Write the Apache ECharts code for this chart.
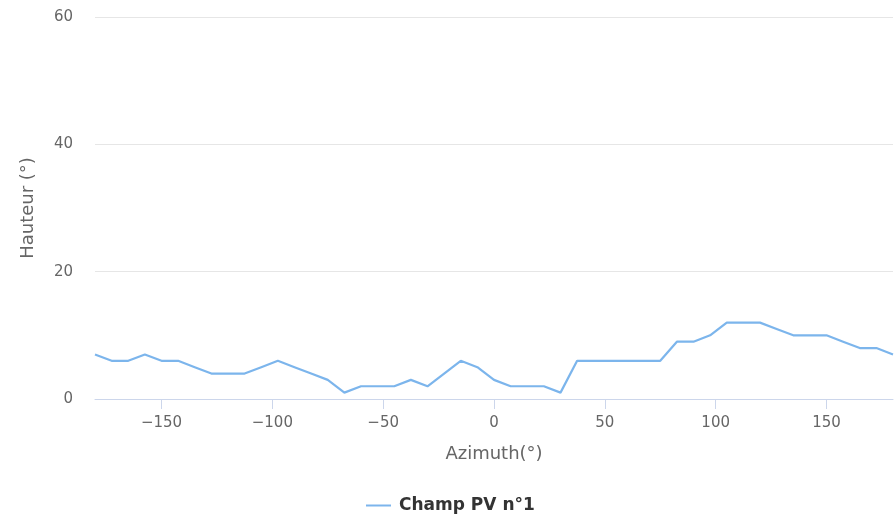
<!DOCTYPE html>
<html>
<head>
<meta charset="utf-8">
<script src="https://cdn.jsdelivr.net/npm/echarts@6/dist/echarts.min.js"></script>
<style>
html,body{margin:0;padding:0;background:#fff;}
#chart{width:895px;height:516px;}
</style>
</head>
<body>
<div id="chart"></div>
<script>
const azimuth = [-180,-172.5,-165,-157.5,-150,-142.5,-135,-127.5,-120,-112.5,-105,-97.5,-90,-82.5,-75,-67.5,-60,-52.5,-45,-37.5,-30,-22.5,-15,-7.5,0,7.5,15,22.5,30,37.5,45,52.5,60,67.5,75,82.5,90,97.5,105,112.5,120,127.5,135,142.5,150,157.5,165,172.5,180];
const hauteur = [7,6,6,7,6,6,5,4,4,4,5,6,5,4,3,1,2,2,2,3,2,4,6,5,3,2,2,2,1,6,6,6,6,6,6,9,9,10,12,12,12,11,10,10,10,9,8,8,7];
const xTicks = [-150,-100,-50,0,50,100,150];
const yTicks = [0,20,40,60];
const seriesName = 'Champ PV n°1';

const font = 'DejaVu Sans';
const chart = echarts.init(document.getElementById('chart'), null, {renderer:'canvas'});
chart.setOption({
  animation:false,
  backgroundColor:'#ffffff',
  textStyle:{fontFamily:font},
  grid:{left:95, right:2, top:17, bottom:117},
  legend:{
    top:492, left:361,
    icon:'rect', itemWidth:25, itemHeight:2, itemGap:10,
    textStyle:{color:'#333333', fontSize:17, fontWeight:'bold', fontFamily:font, padding:[0,0,0,3]},
    data:[seriesName]
  },
  xAxis:{
    type:'value', min:-180, max:180,
    name:'Azimuth(°)', nameLocation:'middle', nameGap:46,
    nameTextStyle:{color:'#666666', fontSize:18, fontFamily:font},
    axisLine:{show:true, lineStyle:{color:'#ccd6eb', width:1}},
    axisTick:{show:true, length:10, lineStyle:{color:'#ccd6eb'}, customValues:xTicks},
    axisLabel:{color:'#666666', fontSize:15, margin:17, customValues:xTicks,
      formatter: v => String(v).replace('-', '\u2212')},
    splitLine:{show:false}
  },
  yAxis:{
    type:'value', min:yTicks[0], max:yTicks[yTicks.length-1], interval:20,
    name:'Hauteur (°)', nameLocation:'middle', nameGap:58, nameRotate:90,
    nameTextStyle:{color:'#666666', fontSize:18, fontFamily:font},
    axisLine:{show:false}, axisTick:{show:false},
    axisLabel:{color:'#666666', fontSize:15, margin:22},
    splitLine:{show:true, lineStyle:{color:'#e6e6e6', width:1}}
  },
  series:[{
    name:seriesName, type:'line',
    data: azimuth.map((a,i)=>[a, hauteur[i]]),
    symbol:'none', showSymbol:false,
    lineStyle:{color:'#7cb5ec', width:2.2},
    itemStyle:{color:'#7cb5ec'}
  }]
});
</script>
</body>
</html>
